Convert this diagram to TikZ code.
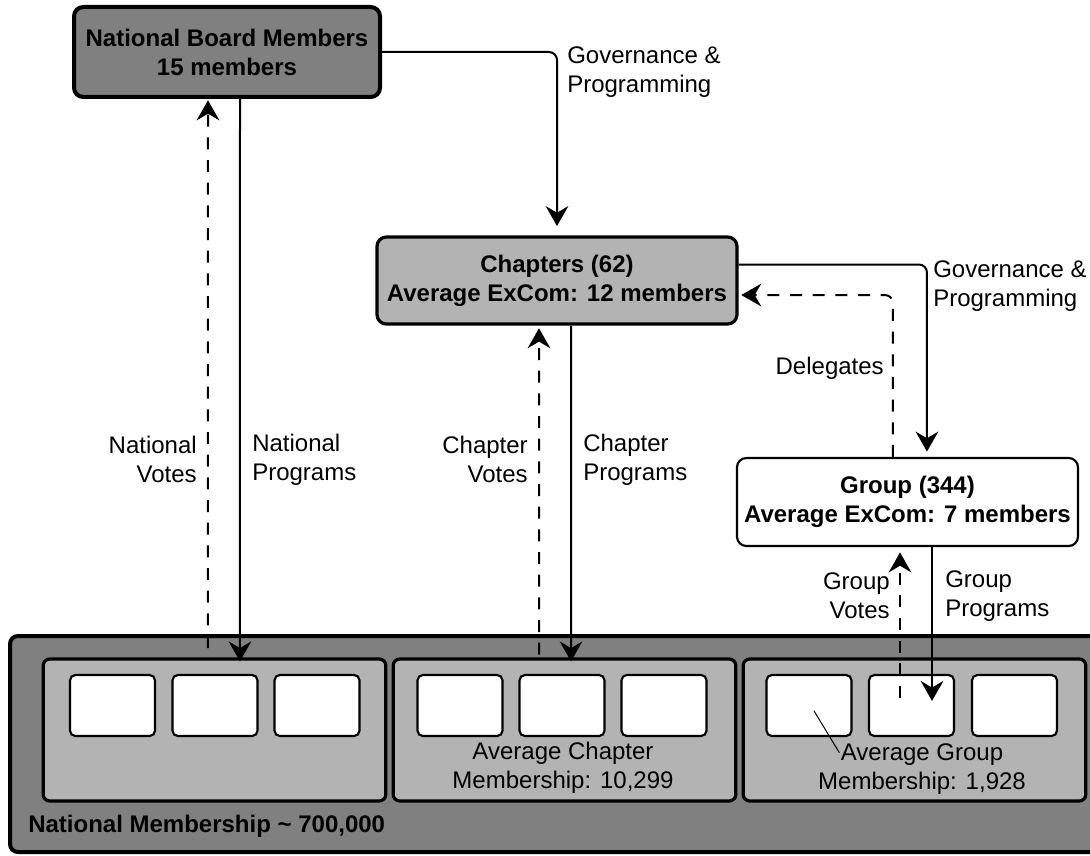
\documentclass[tikz,border=0pt]{standalone}
\usepackage{fontspec}
\setmainfont{Liberation Sans}
\usetikzlibrary{arrows.meta}
\definecolor{dkgray}{HTML}{808080}
\definecolor{ltgray}{HTML}{B3B3B3}
\begin{document}
\begin{tikzpicture}[x=0.75pt,y=-0.75pt,
  font=\fontsize{18}{21.75}\selectfont,
  nbbox/.style={draw, line width=3pt, fill=dkgray, rounded corners=7pt, inner sep=0pt, align=center, font=\fontsize{18}{21.75}\selectfont\bfseries},
  chbox/.style={draw, line width=2.4pt, fill=ltgray, rounded corners=7pt, inner sep=0pt, align=center, font=\fontsize{18}{21.75}\selectfont\bfseries},
  grbox/.style={draw, line width=1.6pt, fill=white, rounded corners=7pt, inner sep=0pt, align=center, font=\fontsize{18}{21.75}\selectfont\bfseries},
  outerbox/.style={draw, line width=3pt, fill=dkgray, rounded corners=6pt, inner sep=0pt},
  innerbox/.style={draw, line width=2.4pt, fill=ltgray, rounded corners=5pt, inner sep=0pt, minimum width=257pt, minimum height=106.5pt},
  smallbox/.style={draw, line width=1.6pt, fill=white, rounded corners=4pt, inner sep=0pt, minimum width=63.75pt, minimum height=45.75pt},
  lbl/.style={inner sep=0pt},
  conn/.style={line width=1.5pt, -{Stealth[length=15pt,width=17pt,inset=5pt]}},
  dconn/.style={conn, dash pattern=on 9pt off 8pt}]
\useasboundingbox (0,0) rectangle (1090,856);
\clip (0,0) rectangle (1090,856);
\fill[white] (0,0) rectangle (1090,856);

% top boxes
\node[nbbox, minimum width=229.5pt, minimum height=67.5pt] (nb) at (227,52) {National Board Members\\15 members};
\node[chbox, minimum width=270pt, minimum height=65.25pt] (ch) at (557,280.5) {Chapters (62)\\Average ExCom: 12 members};
\node[grbox, minimum width=255.75pt, minimum height=66pt] (gr) at (907.5,502) {Group (344)\\Average ExCom: 7 members};

% membership
\node[outerbox, minimum width=825pt, minimum height=162pt] (outer) at (560,744) {};
\node[innerbox] (ib1) at (214.5,730) {};
\node[innerbox] (ib2) at (564.5,730) {};
\node[innerbox] (ib3) at (914.5,730) {};
\node[smallbox] (s11) at (112.5,705.5) {};
\node[smallbox] (s12) at (215,705.5) {};
\node[smallbox] (s13) at (317,705.5) {};
\node[smallbox] (s21) at (460,705.5) {};
\node[smallbox] (s22) at (562,705.5) {};
\node[smallbox] (s23) at (664,705.5) {};
\node[smallbox] (s31) at (809,705.5) {};
\node[smallbox] (s32) at (911.5,705.5) {};
\node[smallbox] (s33) at (1014.5,705.5) {};

\node[lbl, align=center] (avch) at (563,768) {Average Chapter\\Membership: 10,299};
\node[lbl, align=center] (avgr) at (922,769) {Average Group\\Membership: 1,928};
\node[lbl, anchor=west, font=\fontsize{18}{21.75}\selectfont\bfseries] (natm) at (28,826) {National Membership \textasciitilde{} 700,000};

% labels
\node[lbl, anchor=west, align=left] (gov1) at (567,72.5) {Governance \&\\Programming};
\node[lbl, anchor=west, align=left] (gov2) at (933,286.5) {Governance \&\\Programming};
\node[lbl, anchor=east] (dele) at (884,368) {Delegates};
\node[lbl, anchor=east, align=right] (nv) at (197,459.5) {National\\Votes};
\node[lbl, anchor=west, align=left] (np) at (252,459.5) {National\\Programs};
\node[lbl, anchor=east, align=right] (cv) at (528,459.5) {Chapter\\Votes};
\node[lbl, anchor=west, align=left] (cp) at (583,459.5) {Chapter\\Programs};
\node[lbl, anchor=east, align=right] (gv) at (890,596) {Group\\Votes};
\node[lbl, anchor=west, align=left] (gp) at (945,596) {Group\\Programs};

% connectors
\draw[conn, rounded corners=6pt, shorten >=7pt] (nb.east) -| (ch.north);
\draw[conn, rounded corners=6pt, shorten >=4pt] ([yshift=12pt]ch.east) -| ([xshift=14.6pt]gr.north);
\draw[dconn, rounded corners=6pt, shorten >=2pt] ([xshift=-10.9pt]gr.north) |- ([yshift=-10.9pt]ch.east);

\draw[conn, shorten >=-3pt] ([xshift=9.75pt]nb.south) -- ([xshift=19.1pt]ib1.north);
\draw[dconn, shorten >=1pt] ([xshift=-4.9pt,yshift=7pt]ib1.north) -- ([xshift=-14.25pt]nb.south);

\draw[conn, shorten >=-3pt] ([xshift=10.5pt]ch.south) -- ([xshift=4.9pt]ib2.north);
\draw[dconn, shorten >=2pt] ([xshift=-19.1pt,yshift=2pt]ib2.north) -- ([xshift=-13.5pt]ch.south);

\draw[conn] ([xshift=18.4pt]gr.south) -- ([xshift=15.4pt,yshift=-20.25pt]s32.north);
\draw[dconn, shorten >=4pt] ([xshift=-8.6pt,yshift=-18pt]s32.north) -- ([xshift=-5.6pt]gr.south);

\draw[line width=0.75pt] ([xshift=3.75pt,yshift=-4pt]s31.center) -- ([xshift=-62pt,yshift=-7pt]avgr.north);
\end{tikzpicture}
\end{document}
